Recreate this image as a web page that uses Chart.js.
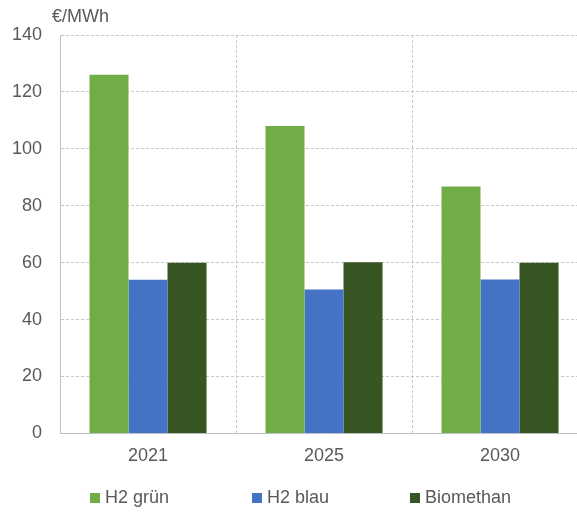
<!DOCTYPE html>
<html>
<head>
<meta charset="utf-8">
<script src="https://cdn.jsdelivr.net/npm/chart.js@4"></script>
<style>
  html, body { margin: 0; padding: 0; background: #fff; overflow: hidden; }
  #wrap { position: relative; width: 577px; height: 512px; overflow: hidden; }
  #chart { position: absolute; left: 0; top: 0; }
  #legend { position: absolute; left: 0; top: 485px; width: 577px; height: 24px; font-family: "Liberation Sans", Arial, sans-serif; font-size: 18px; color: #595959; }
  #legend span.item { position: absolute; top: 0; white-space: nowrap; line-height: 24px; }
  #legend span.box { display: inline-block; width: 10px; height: 10px; margin-right: 5px; vertical-align: 0px; }
</style>
</head>
<body>
<div id="wrap">
  <canvas id="chart" width="590" height="512"></canvas>
  <div id="legend"></div>
</div>
<script>
// Daten
const years = ['2021', '2025', '2030'];
const h2Gruen = [126, 108, 86.8];
const h2Blau = [54, 50.6, 54.1];
const biomethan = [60, 60.1, 60];
const seriesNames = ['H2 grün', 'H2 blau', 'Biomethan'];
const seriesColors = ['#70AD47', '#4472C4', '#375623'];
const yTicks = [0, 20, 40, 60, 80, 100, 120, 140];
const unitLabel = '€/MWh';

const textColor = '#595959';
const fontFamily = '"Liberation Sans", Arial, sans-serif';

// Einheit oben links
const unitPlugin = {
  id: 'unitLabel',
  afterDraw(chart) {
    const ctx = chart.ctx;
    ctx.save();
    ctx.fillStyle = textColor;
    ctx.font = '18px ' + fontFamily;
    ctx.textBaseline = 'middle';
    ctx.textAlign = 'left';
    ctx.fillText(unitLabel, chart.chartArea.left - 8, 17);
    ctx.restore();
  }
};

const values = [h2Gruen, h2Blau, biomethan];

new Chart(document.getElementById('chart'), {
  type: 'bar',
  data: {
    labels: years,
    datasets: seriesNames.map((name, i) => ({
      label: name,
      data: values[i],
      backgroundColor: seriesColors[i],
      borderWidth: 0,
      categoryPercentage: 0.665,
      barPercentage: 1
    }))
  },
  options: {
    responsive: false,
    animation: false,
    layout: { padding: { top: 35, right: 2, left: 0, bottom: 33 } },
    plugins: {
      legend: { display: false },
      tooltip: { enabled: false }
    },
    scales: {
      x: {
        grid: { color: '#c8c8c8', lineWidth: 1, drawTicks: false, offset: true },
        border: { display: true, color: '#bfbfbf', dash: [3, 2] },
        ticks: { color: textColor, font: { family: fontFamily, size: 18 }, padding: 12 }
      },
      y: {
        min: 0,
        max: 140,
        afterFit(scale) { scale.width = 60; },
        afterBuildTicks(scale) { scale.ticks = yTicks.map(v => ({ value: v })); },
        grid: { color: '#c8c8c8', lineWidth: 1, drawTicks: false },
        border: { display: true, color: '#bfbfbf', dash: [3, 2] },
        ticks: { color: textColor, font: { family: fontFamily, size: 18 }, padding: 18 }
      }
    }
  },
  plugins: [unitPlugin]
});

// Legende
const legendPos = [90, 252, 410];
const legend = document.getElementById('legend');
seriesNames.forEach((name, i) => {
  const item = document.createElement('span');
  item.className = 'item';
  item.style.left = legendPos[i] + 'px';
  item.innerHTML = `<span class="box" style="background:${seriesColors[i]}"></span>${name}`;
  legend.appendChild(item);
});
</script>
</body>
</html>
